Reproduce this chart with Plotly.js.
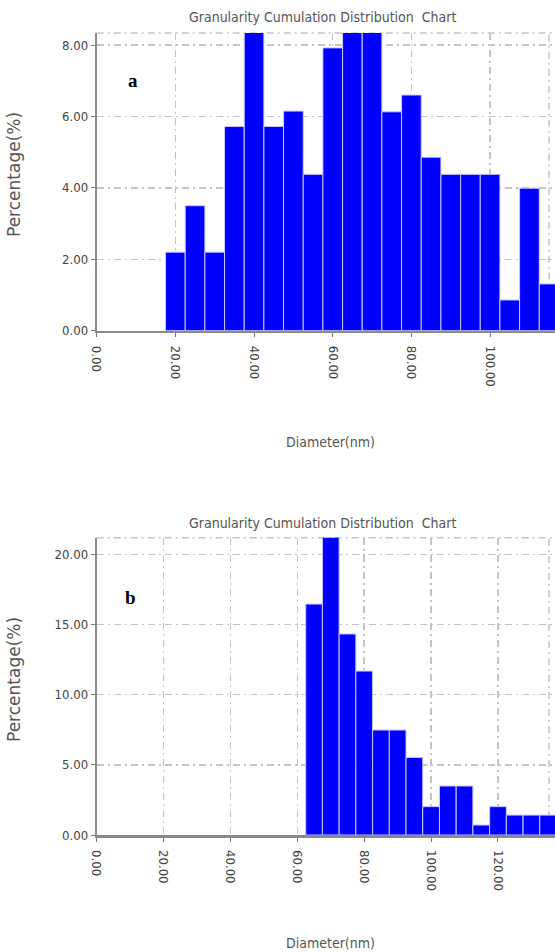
<!DOCTYPE html>
<html><head><meta charset="utf-8">
<script src="https://cdn.plot.ly/plotly-3.0.1.min.js"></script>
<style>html,body{margin:0;padding:0;background:#fff}#chart{width:555px;height:952px}</style>
</head><body><div id="chart"></div>
<script>
// ---- data: chart a ----
const diameterA = [20,25,30,35,40,45,50,55,60,65,70,75,80,85,90,95,100,105,110,115];
const percentA  = [2.2,3.5,2.2,5.72,8.6,5.72,6.15,4.38,7.92,8.6,8.6,6.13,6.6,4.86,4.38,4.38,4.38,0.86,3.99,1.31];
const xTicksA = [0,20,40,60,80,100];
const xTickTextA = ['0.00','20.00','40.00','60.00','80.00','100.00'];
const yTicksA = [0,2,4,6,8];
const yTickTextA = ['0.00','2.00','4.00','6.00','8.00'];
// ---- data: chart b ----
const diameterB = [65,70,75,80,85,90,95,100,105,110,115,120,125,130,135];
const percentB  = [16.45,22,14.32,11.68,7.48,7.48,5.53,2.02,3.49,3.49,0.71,2.02,1.42,1.42,1.42];
const xTicksB = [0,20,40,60,80,100,120];
const xTickTextB = ['0.00','20.00','40.00','60.00','80.00','100.00','120.00'];
const yTicksB = [0,5,10,15,20];
const yTickTextB = ['0.00','5.00','10.00','15.00','20.00'];
const chartTitle = 'Granularity Cumulation Distribution  Chart';
const xTitle = 'Diameter(nm)';
const yTitle = 'Percentage(%)';

const W = 555, H = 952;
const px = v => v / W;
const py = v => 1 - v / H;
const FONT = 'Liberation Sans Narrow, Arial Narrow, DejaVu Sans Condensed, Liberation Sans, sans-serif';
const gridDash = '7px,4px,2px,4px';
const gridColor = '#c4c4c4';

const barStyle = {color:'#0000ff', line:{color:'#c8c8ff', width:1}};
const traces = [
  {type:'bar', x:diameterA, y:percentA, width:5, marker:barStyle, xaxis:'x', yaxis:'y', hoverinfo:'x+y'},
  {type:'bar', x:diameterB, y:percentB, width:5, marker:barStyle, xaxis:'x2', yaxis:'y2', hoverinfo:'x+y'}
];

function xAxis(range, vals, text, anchor){
  return {domain:[px(96.7),1], range:range, anchor:anchor, tickmode:'array', tickvals:vals, ticktext:text,
    tickangle:90, ticks:'outside', ticklen:4, tickcolor:'#777', ticklabelstandoff:6,
    tickfont:{family:FONT,size:13,color:'#444'},
    showgrid:true, gridcolor:gridColor, griddash:gridDash, gridwidth:1.5,
    showline:true, linecolor:'#8a8a8a', linewidth:2.5, zeroline:false, fixedrange:true};
}
function yAxis(range, vals, text, dom, anchor){
  return {domain:dom, range:range, anchor:anchor, tickmode:'array', tickvals:vals, ticktext:text,
    ticks:'outside', ticklen:4, tickcolor:'#777', tickfont:{family:FONT,size:13,color:'#444'},
    showgrid:true, gridcolor:gridColor, griddash:gridDash, gridwidth:1.5,
    showline:true, linecolor:'#8a8a8a', linewidth:2, zeroline:false, fixedrange:true};
}

const txt = (text, x, y, opts) => Object.assign({text:text, xref:'paper', yref:'paper', x:px(x), y:py(y),
  xanchor:'center', yanchor:'middle', showarrow:false, font:{family:FONT, size:14, color:'#555'}}, opts||{});

const yTitleFont = {family:'DejaVu Sans, Liberation Sans, sans-serif', size:17, color:'#555'};
const frameLine = {color:gridColor, width:1.5, dash:gridDash};
const layout = {
  width:W, height:H, margin:{l:0,r:0,t:0,b:0}, paper_bgcolor:'#fff', plot_bgcolor:'#fff',
  showlegend:false, bargap:0,
  xaxis: xAxis([0,116.5], xTicksA, xTickTextA, 'y'),
  yaxis: yAxis([0,8.337], yTicksA, yTickTextA, [py(330.7), py(33)], 'x'),
  xaxis2: xAxis([0,137.05], xTicksB, xTickTextB, 'y2'),
  yaxis2: yAxis([0,21.18], yTicksB, yTickTextB, [py(835), py(537.7)], 'x2'),
  shapes: [
    {type:'line', xref:'paper', yref:'paper', x0:px(96.7), x1:1, y0:py(33), y1:py(33), line:frameLine, layer:'below'},
    {type:'line', xref:'paper', yref:'paper', x0:px(549), x1:px(549), y0:py(330.7), y1:py(33), line:frameLine, layer:'below'},
    {type:'line', xref:'paper', yref:'paper', x0:px(96.7), x1:1, y0:py(537.7), y1:py(537.7), line:frameLine, layer:'below'},
    {type:'line', xref:'paper', yref:'paper', x0:px(549), x1:px(549), y0:py(835), y1:py(537.7), line:frameLine, layer:'below'}
  ],
  annotations: [
    txt(chartTitle, 322, 17),
    txt(chartTitle, 322, 523),
    txt(xTitle, 330, 442),
    txt(xTitle, 330, 943),
    txt(yTitle, 14, 175, {textangle:-90, font:yTitleFont}),
    txt(yTitle, 14, 680, {textangle:-90, font:yTitleFont}),
    txt('a', 133, 80, {font:{family:'Liberation Serif, Times New Roman, serif', size:19, color:'#000'}, text:'<b>a</b>'}),
    txt('b', 130, 597, {font:{family:'Liberation Serif, Times New Roman, serif', size:19, color:'#000'}, text:'<b>b</b>'})
  ]
};
Plotly.newPlot('chart', traces, layout, {displayModeBar:false, staticPlot:true});
</script></body></html>
